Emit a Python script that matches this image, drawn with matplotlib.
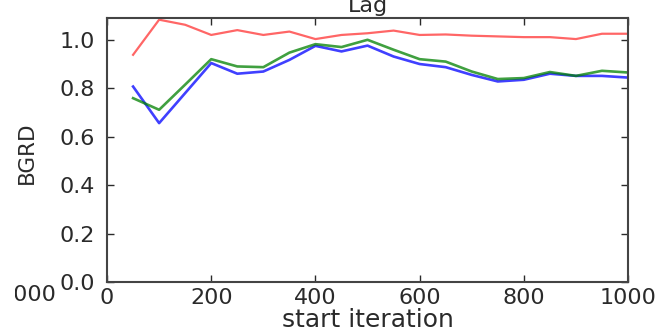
import matplotlib
matplotlib.use('Agg')
import matplotlib.pyplot as plt
from matplotlib.transforms import Bbox, TransformedBbox

# start iteration
iters = [50, 100, 150, 200, 250, 300, 350, 400, 450, 500,
         550, 600, 650, 700, 750, 800, 850, 900, 950, 1000]

bgrd_red = [0.938, 1.083, 1.062, 1.020, 1.040, 1.020, 1.034, 1.003, 1.020, 1.027,
            1.038, 1.020, 1.022, 1.017, 1.014, 1.011, 1.011, 1.003, 1.025, 1.025]
bgrd_green = [0.759, 0.711, 0.815, 0.920, 0.890, 0.887, 0.947, 0.982, 0.970, 1.000,
              0.959, 0.920, 0.910, 0.869, 0.838, 0.842, 0.867, 0.851, 0.872, 0.865]
bgrd_blue = [0.807, 0.656, 0.780, 0.904, 0.860, 0.869, 0.917, 0.975, 0.952, 0.976,
             0.931, 0.900, 0.887, 0.855, 0.828, 0.835, 0.860, 0.851, 0.851, 0.844]

fig = plt.figure(figsize=(6.66, 3.34), dpi=100)
ax = fig.add_axes([0.1607, 0.1557, 0.7823, 0.7904])

ax.plot(iters, bgrd_blue, color='#0000ff', lw=1.9, alpha=0.75)
ax.plot(iters, bgrd_green, color='#008000', lw=1.9, alpha=0.75)
ax.plot(iters, bgrd_red, color='#ff0000', lw=1.6, alpha=0.6)

ax.set_xlim(0, 1000)
ax.set_ylim(0, 1.09)
ax.set_xticks([0, 200, 400, 600, 800, 1000])
ax.set_yticks([0.0, 0.2, 0.4, 0.6, 0.8, 1.0])
ax.tick_params(direction='in', top=True, right=True, length=5, width=1,
               labelsize=16, colors='#2a2a2a')
ax.tick_params(axis='x', pad=4)
ax.tick_params(axis='y', pad=9)
for s in ax.spines.values():
    s.set_linewidth(1.5)
    s.set_color('#444444')

ax.set_title('Lag', fontsize=16, color='#2a2a2a', pad=4)
ax.set_xlabel('start iteration', fontsize=18, color='#2a2a2a', va='baseline')
ax.xaxis.set_label_coords(0.5, -0.172)
ax.set_ylabel('BGRD', fontsize=15.5, color='#2a2a2a', va='center')
ax.yaxis.set_label_coords(-0.154, 0.49)

# edge of the neighbouring panel's tick label, cut by the crop
edge = fig.text(56 / 666, 1 - 295 / 334, '1000', fontsize=16, color='#2a2a2a',
                ha='right', va='center')
edge.set_clip_box(TransformedBbox(Bbox([[15 / 666, 0], [1, 1]]), fig.transFigure))
edge.set_clip_on(True)

fig.savefig('out.png', dpi=100)
